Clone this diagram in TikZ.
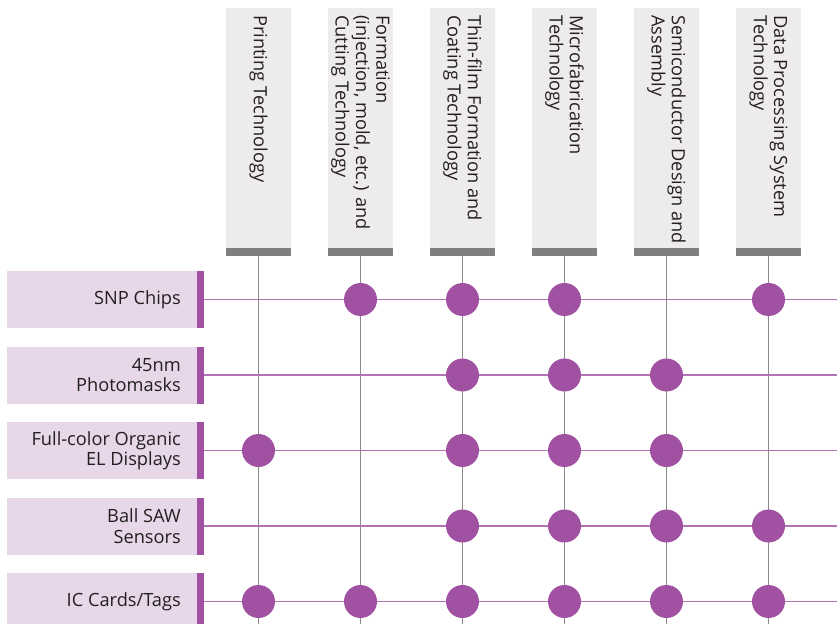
\documentclass[tikz,border=0pt]{standalone}
\usepackage{fontspec}
\setmainfont{Open Sans}
\begin{document}
\begin{tikzpicture}[x=1bp,y=-1bp,
  hdrbox/.style={fill=hdrgray,draw=none},
  hdrbar/.style={fill=bargray,draw=none},
  hdrtext/.style={rotate=-90,anchor=west,inner sep=0pt,align=left,
    font=\fontsize{18.3}{20.5}\selectfont,text=txt},
  rowbox/.style={fill=rowpink,draw=none},
  rowbar/.style={fill=purp,draw=none},
  rowtext/.style={anchor=east,inner sep=0pt,align=right,
    font=\fontsize{18.3}{20.5}\selectfont,text=txt},
  vline/.style={draw=linegray,line width=1.1bp},
  hline/.style={draw=linepurp,line width=1.6bp},
  dot/.style={circle,fill=purp,minimum size=33bp,inner sep=0pt}]
\definecolor{hdrgray}{HTML}{EDECEB}
\definecolor{bargray}{HTML}{7F7F80}
\definecolor{rowpink}{HTML}{E7D7E9}
\definecolor{purp}{HTML}{A151A1}
\definecolor{linepurp}{HTML}{B173B3}
\definecolor{linegray}{HTML}{8A8A8A}
\definecolor{txt}{HTML}{231F20}
\useasboundingbox (0,0) rectangle (837,624);

% column headers
\foreach \cx/\name/\lbl in {
  258.5/c1/{Printing Technology},
  360.5/c2/{Formation\\(injection, mold, etc.) and\\Cutting Technology},
  462.5/c3/{Thin-film Formation and\\Coating Technology},
  564.5/c4/{Microfabrication\\Technology},
  666.5/c5/{Semiconductor Design and\\Assembly},
  768.5/c6/{Data Processing System\\Technology}}{
  \fill[hdrbox] (\cx-32.5,8) rectangle (\cx+32.5,248);
  \fill[hdrbar] (\cx-32.5,248) rectangle (\cx+32.5,255.5);
  \coordinate (\name) at (\cx,255.5);
  \coordinate (\name e) at (\cx,624);
  \node[hdrtext] (\name t) at (\cx,15) {\lbl};
}

% row labels
\foreach \cy/\name/\lbl in {
  299.5/r1/{SNP Chips},
  375/r2/{45nm\\Photomasks},
  450.5/r3/{Full-color Organic\\EL Displays},
  526/r4/{Ball SAW\\Sensors},
  601.5/r5/{IC Cards/Tags}}{
  \fill[rowbox] (7,\cy-28.5) rectangle (196.5,\cy+28.5);
  \fill[rowbar] (196.5,\cy-28.5) rectangle (204,\cy+28.5);
  \coordinate (\name) at (204,\cy);
  \coordinate (\name e) at (837,\cy);
  \node[rowtext] (\name t) at (181,\cy) {\lbl};
}

% grid
\foreach \c in {c1,c2,c3,c4,c5,c6} \draw[vline] (\c) -- (\c e);
\foreach \r in {r1,r2,r3,r4,r5} \draw[hline] (\r) -- (\r e);

% intersections
\foreach \r/\cols in {
  r1/{c2,c3,c4,c6},
  r2/{c3,c4,c5},
  r3/{c1,c3,c4,c5},
  r4/{c3,c4,c5,c6},
  r5/{c1,c2,c3,c4,c5,c6}}{
  \foreach \c in \cols
    \node[dot] (\r\c) at (\c |- \r) {};
}
\end{tikzpicture}
\end{document}
